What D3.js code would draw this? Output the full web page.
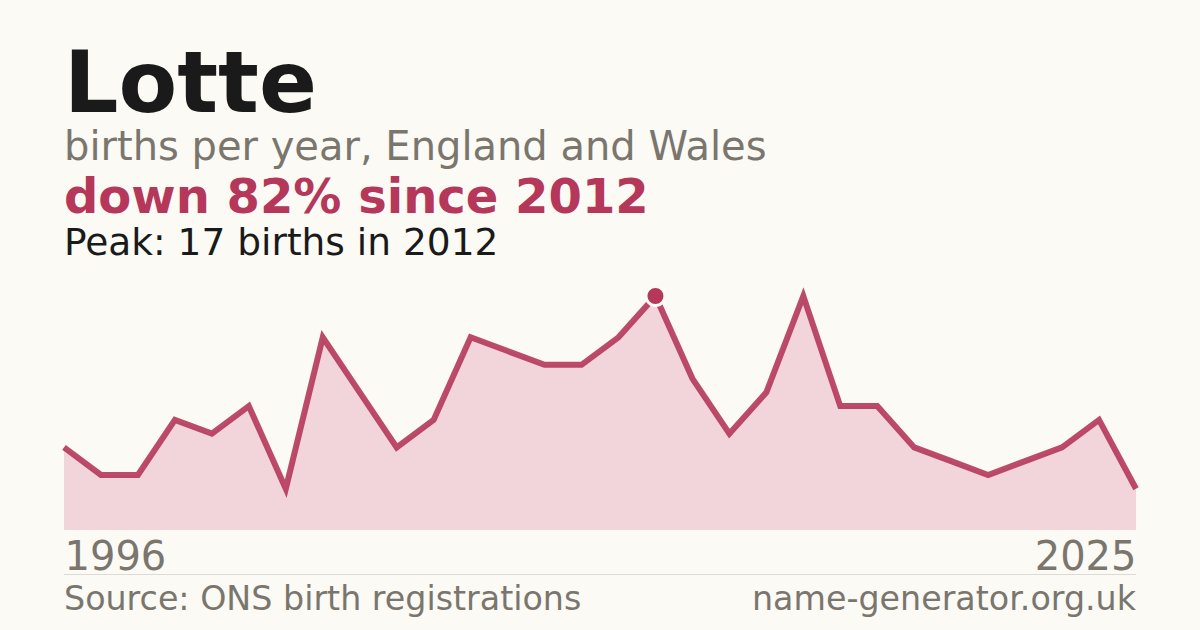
<!DOCTYPE html>
<html>
<head>
<meta charset="utf-8">
<script src="https://cdn.jsdelivr.net/npm/d3@7"></script>
<style>
  html, body { margin: 0; padding: 0; background: #fbfaf5; }
  svg { display: block; font-family: "DejaVu Sans", sans-serif; }
</style>
</head>
<body>
<div id="chart"></div>
<script>
// Data
var years = [1996, 1997, 1998, 1999, 2000, 2001, 2002, 2003, 2004, 2005,
             2006, 2007, 2008, 2009, 2010, 2011, 2012, 2013, 2014, 2015,
             2016, 2017, 2018, 2019, 2020, 2021, 2022, 2023, 2024, 2025];
var births = [6, 4, 4, 8, 7, 9, 3, 14, 10, 6,
              8, 14, 13, 12, 12, 14, 17, 11, 7, 10,
              17, 9, 9, 6, 5, 4, 5, 6, 8, 3];
var peakYear = 2012;
var peakValue = 17;

var svgWidth = 1200;
var svgHeight = 630;
var chartMargin = { top: 296, right: 64, bottom: 100, left: 64 };
var chartWidth = svgWidth - chartMargin.left - chartMargin.right;
var chartHeight = svgHeight - chartMargin.top - chartMargin.bottom;

var red = "#b5375a";
var grey = "#7a766e";

var svg = d3.select("#chart")
  .append("svg")
  .attr("width", svgWidth)
  .attr("height", svgHeight);

svg.append("rect")
  .attr("width", svgWidth)
  .attr("height", svgHeight)
  .attr("fill", "#fbfaf5");

// header texts
svg.append("text")
  .attr("x", 64).attr("y", 112)
  .attr("font-size", 85.5).attr("font-weight", "bold")
  .attr("fill", "#1a1a1a")
  .text("Lotte");

svg.append("text")
  .attr("x", 64).attr("y", 160)
  .attr("font-size", 40)
  .attr("fill", grey)
  .text("births per year, England and Wales");

svg.append("text")
  .attr("x", 64).attr("y", 213)
  .attr("font-size", 48).attr("font-weight", "bold")
  .attr("fill", red)
  .text("down 82% since 2012");

svg.append("text")
  .attr("x", 64).attr("y", 255)
  .attr("font-size", 37.5)
  .attr("fill", "#1a1a1a")
  .text("Peak: 17 births in 2012");

var data = years.map(function(y, i) { return { year: y, births: births[i] }; });

var xScale = d3.scaleLinear()
  .domain([years[0], years[years.length - 1]])
  .range([0, chartWidth]);

var yScale = d3.scaleLinear()
  .domain([0, peakValue])
  .range([chartHeight, 0]);

var chartGroup = svg.append("g")
  .attr("transform", `translate(${chartMargin.left}, ${chartMargin.top})`);

var area = d3.area()
  .x(d => xScale(d.year))
  .y0(chartHeight)
  .y1(d => yScale(d.births));

var line = d3.line()
  .x(d => xScale(d.year))
  .y(d => yScale(d.births));

chartGroup.append("path")
  .datum(data)
  .attr("d", area)
  .attr("fill", "#f2d5db");

chartGroup.append("path")
  .datum(data)
  .attr("d", line)
  .attr("fill", "none")
  .attr("stroke", red)
  .attr("stroke-width", 6)
  .attr("stroke-opacity", 0.9);

// peak marker
chartGroup.append("circle")
  .attr("cx", xScale(peakYear))
  .attr("cy", yScale(peakValue))
  .attr("r", 9.5)
  .attr("fill", red)
  .attr("stroke", "#fbfaf5")
  .attr("stroke-width", 3);

// year labels
var bottomAxis = d3.axisBottom(xScale)
  .tickValues([years[0], years[years.length - 1]])
  .tickFormat(d3.format("d"))
  .tickSize(0);

var xAxis = chartGroup.append("g")
  .attr("transform", `translate(0, ${chartHeight})`)
  .call(bottomAxis);

xAxis.select(".domain").remove();
xAxis.selectAll("text")
  .attr("font-family", "DejaVu Sans, sans-serif")
  .attr("font-size", 40)
  .attr("fill", grey)
  .attr("dy", null)
  .attr("y", 40)
  .attr("text-anchor", (d, i) => i === 0 ? "start" : "end");

// divider and footer
svg.append("line")
  .attr("x1", 64).attr("x2", 1136)
  .attr("y1", 574.5).attr("y2", 574.5)
  .attr("stroke", "#dcdad3")
  .attr("stroke-width", 1);

svg.append("text")
  .attr("x", 64).attr("y", 610)
  .attr("font-size", 33.3)
  .attr("fill", grey)
  .text("Source: ONS birth registrations");

svg.append("text")
  .attr("x", 1136).attr("y", 610)
  .attr("font-size", 33.3)
  .attr("text-anchor", "end")
  .attr("fill", grey)
  .text("name-generator.org.uk");
</script>
</body>
</html>
